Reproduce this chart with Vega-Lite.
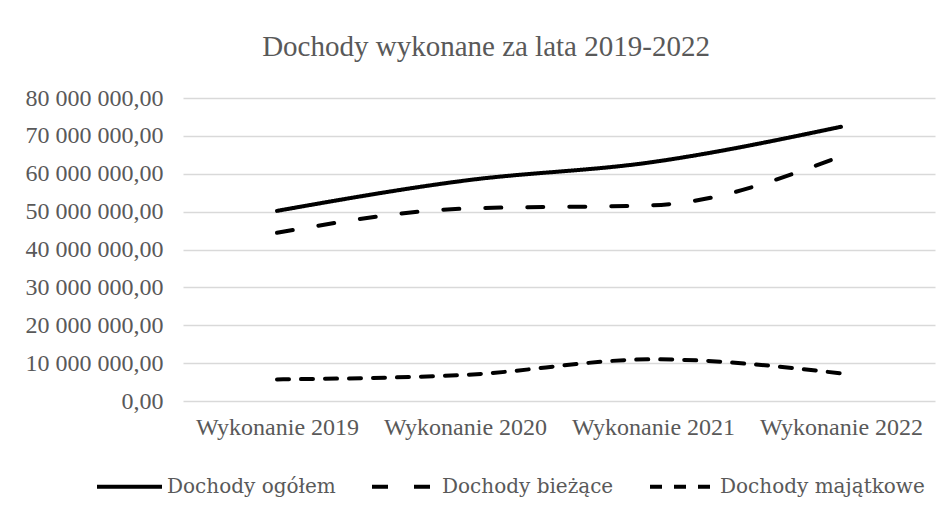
{
  "$schema": "https://vega.github.io/schema/vega-lite/v6.json",
  "width": 752,
  "height": 303,
  "autosize": "none",
  "padding": {"left": 183, "top": 98, "right": 15, "bottom": 112},
  "background": "white",
  "config": {
    "locale": {"number": {"decimal": ",", "thousands": "\u00a0", "grouping": [3], "currency": ["", ""]}},
    "view": {"stroke": null},
    "font": "Liberation Serif"
  },
  "title": {
    "text": "Dochody wykonane za lata 2019-2022",
    "fontSize": 29,
    "font": "Liberation Serif",
    "fontWeight": "normal",
    "color": "#595959",
    "anchor": "middle",
    "dx": -73,
    "offset": 24
  },
  "data": {
    "values": [
      {"rok": "Wykonanie 2019", "seria": "Dochody ogółem", "wartosc": 50200000},
      {"rok": "Wykonanie 2020", "seria": "Dochody ogółem", "wartosc": 58200000},
      {"rok": "Wykonanie 2021", "seria": "Dochody ogółem", "wartosc": 63100000},
      {"rok": "Wykonanie 2022", "seria": "Dochody ogółem", "wartosc": 72400000},
      {"rok": "Wykonanie 2019", "seria": "Dochody bieżące", "wartosc": 44400000},
      {"rok": "Wykonanie 2020", "seria": "Dochody bieżące", "wartosc": 50800000},
      {"rok": "Wykonanie 2021", "seria": "Dochody bieżące", "wartosc": 51700000},
      {"rok": "Wykonanie 2022", "seria": "Dochody bieżące", "wartosc": 64600000},
      {"rok": "Wykonanie 2019", "seria": "Dochody majątkowe", "wartosc": 5700000},
      {"rok": "Wykonanie 2020", "seria": "Dochody majątkowe", "wartosc": 6900000},
      {"rok": "Wykonanie 2021", "seria": "Dochody majątkowe", "wartosc": 11000000},
      {"rok": "Wykonanie 2022", "seria": "Dochody majątkowe", "wartosc": 7300000}
    ]
  },
  "mark": {"type": "line", "interpolate": "monotone", "strokeWidth": 4, "strokeCap": "round", "color": "black"},
  "encoding": {
    "x": {
      "field": "rok",
      "type": "nominal",
      "sort": ["Wykonanie 2019", "Wykonanie 2020", "Wykonanie 2021", "Wykonanie 2022"],
      "scale": {"type": "point", "padding": 0.5},
      "axis": {
        "title": null,
        "labelAngle": 0,
        "labelFontSize": 24,
        "labelColor": "#595959",
        "labelFont": "Liberation Serif",
        "domain": false,
        "ticks": false,
        "grid": false,
        "labelPadding": 14
      }
    },
    "y": {
      "field": "wartosc",
      "type": "quantitative",
      "scale": {"domain": [0, 80000000], "nice": false},
      "axis": {
        "title": null,
        "values": [0, 10000000, 20000000, 30000000, 40000000, 50000000, 60000000, 70000000, 80000000],
        "format": ",.2f",
        "labelFontSize": 24,
        "labelColor": "#595959",
        "labelFont": "Liberation Serif",
        "domain": false,
        "ticks": false,
        "gridColor": "#d9d9d9",
        "gridWidth": 1.5,
        "labelPadding": 20
      }
    },
    "strokeDash": {
      "field": "seria",
      "type": "nominal",
      "sort": ["Dochody ogółem", "Dochody bieżące", "Dochody majątkowe"],
      "scale": {
        "domain": ["Dochody ogółem", "Dochody bieżące", "Dochody majątkowe"],
        "range": [[1, 0], [16, 26], [12, 12]]
      },
      "legend": {
        "title": null,
        "orient": "none",
        "direction": "horizontal",
        "legendX": -88,
        "legendY": 354,
        "symbolType": "stroke",
        "symbolSize": 4225,
        "symbolStrokeWidth": 4,
        "symbolStrokeColor": "black",
        "labelFontSize": 20,
        "labelColor": "#595959",
        "labelFont": "DejaVu Serif",
        "labelOffset": 3,
        "columnPadding": 28,
        "labelLimit": 400
      }
    }
  }
}
